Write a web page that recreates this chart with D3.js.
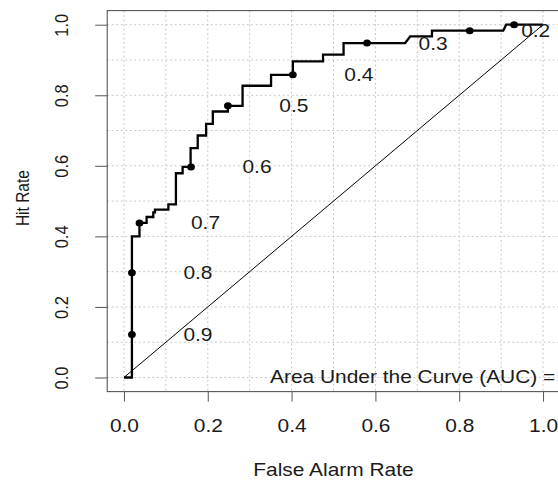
<!DOCTYPE html>
<html>
<head>
<meta charset="utf-8">
<script src="https://cdn.jsdelivr.net/npm/d3@7"></script>
<style>
  html, body { margin: 0; padding: 0; background: #fff; }
  svg { display: block; font-family: "Liberation Sans", Arial, sans-serif; }
</style>
</head>
<body>
<svg id="chart" width="558" height="481"></svg>
<script>
// ---- data ----
const rocFalseAlarm = [0, 0.019, 0.019, 0.037, 0.037, 0.054, 0.054, 0.070, 0.070, 0.074, 0.074, 0.106, 0.106, 0.124, 0.124, 0.140, 0.140, 0.159, 0.159, 0.176, 0.176, 0.196, 0.196, 0.212, 0.212, 0.248, 0.248, 0.283, 0.283, 0.351, 0.351, 0.403, 0.403, 0.475, 0.475, 0.524, 0.524, 0.671, 0.683, 0.735, 0.735, 0.905, 0.912, 1.0];
const rocHitRate    = [0, 0, 0.40, 0.40, 0.438, 0.438, 0.455, 0.455, 0.468, 0.468, 0.476, 0.476, 0.491, 0.491, 0.579, 0.579, 0.597, 0.597, 0.650, 0.650, 0.686, 0.686, 0.719, 0.719, 0.754, 0.754, 0.770, 0.770, 0.827, 0.827, 0.858, 0.858, 0.896, 0.896, 0.915, 0.915, 0.948, 0.948, 0.967, 0.967, 0.983, 0.983, 1.0, 1.0];
const thresholds      = [0.9, 0.8, 0.7, 0.6, 0.5, 0.4, 0.3, 0.2, 0.1];
const thresholdFalseAlarm = [0.019, 0.019, 0.037, 0.160, 0.248, 0.403, 0.580, 0.825, 0.931];
const thresholdHitRate    = [0.122, 0.297, 0.438, 0.597, 0.770, 0.858, 0.948, 0.983, 1.0];
const axisTicks = [0, 0.2, 0.4, 0.6, 0.8, 1.0];
const gridValues = [0, 0.1, 0.2, 0.3, 0.4, 0.5, 0.6, 0.7, 0.8, 0.9, 1.0];
const xTitle = "False Alarm Rate";
const yTitle = "Hit Rate";
const aucText = "Area Under the Curve (AUC) =";

// ---- layout ----
const SX = 1.1625;               // horizontal stretch of the reference
const W = 558;
const pL = 107.2, pR = 559.8, pT = 10.6, pB = 391.6;
const svg = d3.select("#chart");
const x = d3.scaleLinear().domain([-0.04, 1.04]).range([pL, pR]);
const y = d3.scaleLinear().domain([-0.04, 1.04]).range([pB, pT]);
const ink = "#1a1a1a";

// grid
const grid = svg.append("g").attr("stroke", "#c8c8c8").attr("stroke-width", 1).attr("stroke-dasharray", "2,2.5");
grid.selectAll("line.v").data(gridValues).join("line").attr("class", "v")
  .attr("x1", d => x(d)).attr("x2", d => x(d)).attr("y1", pT).attr("y2", pB);
grid.selectAll("line.h").data(gridValues).join("line").attr("class", "h")
  .attr("x1", pL).attr("x2", pR).attr("y1", d => y(d)).attr("y2", d => y(d));

// box
svg.append("rect").attr("x", pL).attr("y", pT).attr("width", pR - pL).attr("height", pB - pT)
  .attr("fill", "none").attr("stroke", "#555").attr("stroke-width", 1.1);

// axes
const xAxis = svg.append("g").attr("transform", `translate(0,${pB})`)
  .call(d3.axisBottom(x).tickValues(axisTicks).tickFormat(d3.format(".1f")).tickSize(10).tickSizeOuter(0));
xAxis.select(".domain").remove();
xAxis.selectAll(".tick line").attr("stroke", "#555");
xAxis.selectAll(".tick text").attr("y", 40.5).attr("dy", null)
  .attr("font-size", 18).attr("fill", ink).attr("font-family", null)
  .attr("transform", `scale(${SX},1)`);

const yAxis = svg.append("g").attr("transform", `translate(${pL},0)`)
  .call(d3.axisLeft(y).tickValues(axisTicks).tickFormat(d3.format(".1f")).tickSize(12).tickSizeOuter(0));
yAxis.select(".domain").remove();
yAxis.selectAll(".tick line").attr("stroke", "#555");
yAxis.selectAll(".tick text").attr("x", 0).attr("y", 0).attr("dy", null)
  .attr("text-anchor", "middle").attr("font-size", 16.5).attr("fill", ink).attr("font-family", null)
  .attr("transform", `translate(-39,0) rotate(-90) scale(1,${SX})`);

// axis titles
svg.append("text").attr("text-anchor", "middle").attr("font-size", 18).attr("fill", ink)
  .attr("transform", `translate(${(pL + pR) / 2},476) scale(${SX},1)`).text(xTitle);
svg.append("text").attr("text-anchor", "middle").attr("font-size", 15.5).attr("fill", ink)
  .attr("transform", `translate(28.5,${(pT + pB) / 2 - 3}) rotate(-90) scale(1,${SX})`).text(yTitle);

// diagonal
svg.append("line").attr("x1", x(0)).attr("y1", y(0)).attr("x2", x(1)).attr("y2", y(1))
  .attr("stroke", "#000").attr("stroke-width", 1);

// ROC curve
const pts = rocFalseAlarm.map((f, i) => [f, rocHitRate[i]]);
svg.append("path").datum(pts)
  .attr("d", d3.line().x(d => x(d[0])).y(d => y(d[1])))
  .attr("fill", "none").attr("stroke", "#000").attr("stroke-width", 2.3).attr("stroke-linejoin", "miter");

// threshold markers and labels
const th = thresholds.map((t, i) => ({ t, f: thresholdFalseAlarm[i], h: thresholdHitRate[i] }));
svg.append("g").selectAll("ellipse").data(th).join("ellipse")
  .attr("cx", d => x(d.f)).attr("cy", d => y(d.h)).attr("rx", 3.9).attr("ry", 3.5).attr("fill", "#000");
// labels sit to the right of their marker; the one that falls beyond the page edge is not shown (as in the reference)
svg.append("g").selectAll("text").data(th.filter(d => x(d.f) + 66 + 15 < W)).join("text")
  .attr("text-anchor", "middle").attr("font-size", 18).attr("fill", ink)
  .attr("transform", d => `translate(${x(d.f) + 66},${y(d.h) + 6.5}) scale(${SX},1)`)
  .text(d => d3.format(".1f")(d.t));

// AUC text
svg.append("text").attr("font-size", 18).attr("fill", ink)
  .attr("transform", `translate(270,383.3) scale(${SX},1)`).text(aucText);
</script>
</body>
</html>
